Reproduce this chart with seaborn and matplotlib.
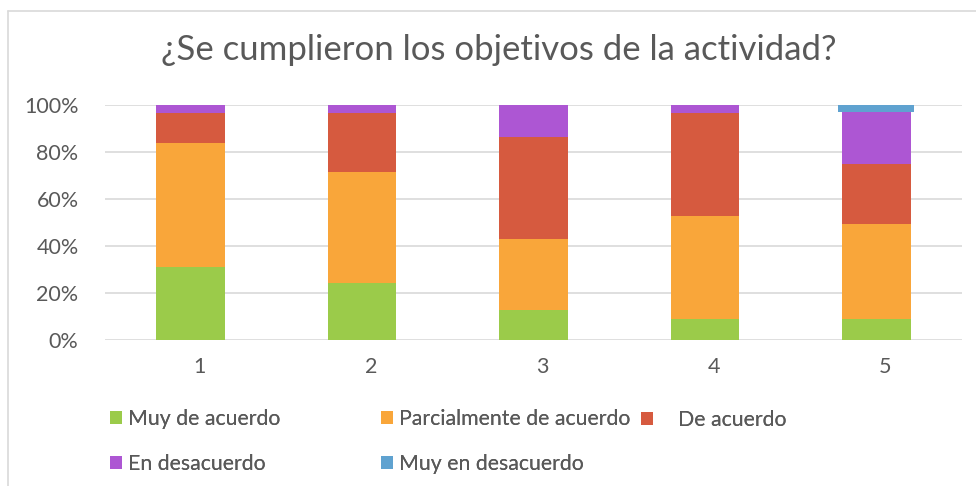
import matplotlib
matplotlib.use("Agg")
import matplotlib.pyplot as plt
import matplotlib.transforms as mtransforms
from matplotlib.patches import Patch
import seaborn as sns
import numpy as np

categories = ["1", "2", "3", "4", "5"]
muy_de_acuerdo = [31.2, 24.4, 12.6, 8.9, 8.9]
parcialmente = [52.9, 47.2, 30.4, 43.9, 40.5]
de_acuerdo = [12.5, 25.0, 43.4, 43.8, 25.6]
en_desacuerdo = [3.4, 3.4, 13.6, 3.4, 22.3]
muy_en_desacuerdo = [0.0, 0.0, 0.0, 0.0, 2.7]
series_names = ["Muy de acuerdo", "Parcialmente de acuerdo", "De acuerdo",
                "En desacuerdo", "Muy en desacuerdo"]
colors = ["#9BCB4A", "#F9A63A", "#D65A3F", "#AD56D3", "#5FA2D0"]
yticks = [0, 20, 40, 60, 80, 100]
title = "¿Se cumplieron los objetivos de la actividad?"

sns.set_theme(style="white")
plt.rcParams["font.family"] = ["Lato", "DejaVu Sans"]
text_color = "#595959"

fig = plt.figure(figsize=(9.76, 4.86), dpi=100)
ax = fig.add_axes([105 / 976, 1 - 340 / 486, (962 - 105) / 976, (340 - 105.3) / 486])

series = [muy_de_acuerdo, parcialmente, de_acuerdo, en_desacuerdo, muy_en_desacuerdo]
bottom = np.zeros(len(categories))
for i, (vals, col) in enumerate(zip(series, colors)):
    w = 0.445 if i == 4 else 0.40
    sns.barplot(x=categories, y=vals, bottom=bottom, color=col, width=w,
                ax=ax, linewidth=0, saturation=1, zorder=3)
    bottom = bottom + np.array(vals)

ax.set_ylim(0, 100)
ax.set_xlim(-0.5, 4.5)
ax.set_yticks(yticks)
ax.set_yticklabels([f"{t}%" for t in yticks])
ax.yaxis.grid(True, color="#D9D9D9", linewidth=1.2, zorder=0)
ax.set_axisbelow(True)
for s in ax.spines.values():
    s.set_visible(False)
ax.tick_params(axis="both", length=0, colors=text_color, labelsize=15.5)
ax.tick_params(axis="y", pad=19)
ax.tick_params(axis="x", pad=12)
ax.set_xlabel("")
ax.set_ylabel("")

offset = mtransforms.ScaledTranslation(9 / 100, 0, fig.dpi_scale_trans)
for lab in ax.get_xticklabels():
    lab.set_transform(lab.get_transform() + offset)

fig.text(499 / 976, 1 - 50 / 486, title, ha="center", va="center",
         fontsize=25, color=text_color)

# chart frame
fig.add_artist(plt.Line2D([8 / 976, 8 / 976], [0, 1 - 11.5 / 486],
                          transform=fig.transFigure, color="#D9D9D9", linewidth=1.2))
fig.add_artist(plt.Line2D([8 / 976, 1], [1 - 11.5 / 486, 1 - 11.5 / 486],
                          transform=fig.transFigure, color="#D9D9D9", linewidth=1.2))

handles = [Patch(facecolor=c, edgecolor="none") for c in colors]
leg_kw = dict(frameon=False, fontsize=15.3, labelcolor=text_color,
              handlelength=0.55, handleheight=0.55,
              borderpad=0, borderaxespad=0, labelspacing=1.15)
groups = [([0, 3], 110, 0.3), ([1, 4], 381, 0.3), ([2], 641, 1.2)]
for idx, xpx, tpad in groups:
    ycen = (420 + 463) / 2 if len(idx) == 2 else 420
    leg = fig.legend([handles[k] for k in idx], [series_names[k] for k in idx],
                     loc="center left", bbox_to_anchor=(xpx / 976, 1 - ycen / 486),
                     handletextpad=tpad, **leg_kw)
    fig.add_artist(leg)

fig.savefig("out.png", dpi=100, facecolor="white")
